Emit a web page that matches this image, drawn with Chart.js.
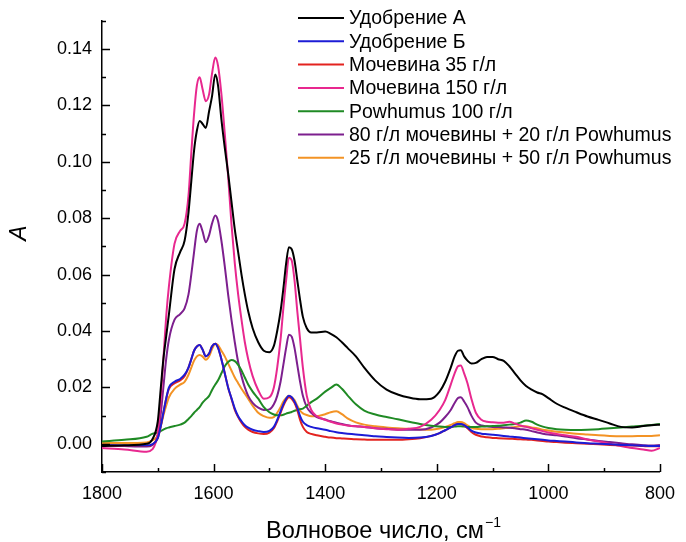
<!DOCTYPE html>
<html>
<head>
<meta charset="utf-8">
<script src="https://cdn.jsdelivr.net/npm/chart.js@4/dist/chart.umd.min.js"></script>
<style>
html,body{margin:0;padding:0;background:#fff;}
canvas{display:block;}
</style>
</head>
<body>
<canvas id="c" width="686" height="542"></canvas>
<script>
// ---- data ----
const wavenumbers = [1800,1760,1720,1710,1700,1695,1690,1685,1680,1670,1660,1652,1645,1640,1635,1630,1625,1620,1614,1608,1603,1597,1592,1586,1580,1574,1568,1562,1556,1550,1544,1538,1530,1520,1510,1500,1492,1486,1480,1475,1470,1465,1460,1455,1450,1445,1440,1433,1425,1415,1400,1390,1380,1370,1360,1345,1330,1310,1290,1270,1250,1230,1210,1195,1185,1175,1168,1162,1157,1151,1145,1138,1130,1120,1110,1100,1090,1080,1070,1060,1050,1040,1030,1020,1010,1000,985,970,950,930,910,890,870,850,830,815,800];

const fertA = [-0.0008,-0.0005,0.0000,0.0015,0.008,0.019,0.030,0.038,0.046,0.062,0.068,0.072,0.082,0.093,0.104,0.111,0.1145,0.1135,0.112,0.118,0.123,0.131,0.127,0.115,0.105,0.096,0.086,0.076,0.068,0.060,0.053,0.047,0.041,0.036,0.033,0.0325,0.0347,0.040,0.047,0.055,0.064,0.0697,0.069,0.065,0.058,0.051,0.045,0.041,0.0395,0.0395,0.0398,0.039,0.0378,0.036,0.034,0.031,0.027,0.0224,0.0192,0.0175,0.0164,0.0158,0.016,0.0185,0.022,0.027,0.031,0.033,0.0332,0.031,0.0295,0.0285,0.0287,0.030,0.0308,0.0308,0.030,0.0294,0.0275,0.025,0.0225,0.0205,0.0192,0.0182,0.0175,0.0162,0.0142,0.0128,0.0112,0.0097,0.0085,0.0072,0.006,0.0058,0.0063,0.0066,0.0068];

const fertB = [-0.0005,-0.0006,-0.0006,-0.0002,0.002,0.006,0.011,0.016,0.020,0.022,0.023,0.0245,0.027,0.030,0.033,0.0345,0.035,0.0335,0.031,0.032,0.0345,0.0355,0.034,0.030,0.025,0.020,0.0162,0.0125,0.0098,0.008,0.0066,0.0057,0.005,0.0045,0.0042,0.0046,0.006,0.0085,0.0115,0.014,0.016,0.017,0.0165,0.015,0.0128,0.0098,0.0078,0.0066,0.006,0.0055,0.005,0.0045,0.0041,0.0038,0.0036,0.0033,0.003,0.0027,0.0024,0.0022,0.0021,0.0022,0.0028,0.0038,0.0048,0.0058,0.0066,0.007,0.007,0.0066,0.0058,0.0047,0.004,0.0036,0.0034,0.0032,0.003,0.0028,0.0026,0.0024,0.0022,0.002,0.0018,0.0016,0.0014,0.0012,0.001,0.0008,0.0005,0.0002,0.0,-0.0002,-0.0004,-0.0005,-0.0007,-0.0008,-0.0008];

const urea35 = [-0.0005,-0.0008,-0.0008,-0.0003,0.002,0.006,0.011,0.016,0.0195,0.0215,0.0225,0.024,0.027,0.030,0.033,0.0345,0.035,0.0335,0.031,0.032,0.0345,0.0355,0.034,0.030,0.025,0.020,0.016,0.012,0.0095,0.0075,0.006,0.005,0.0042,0.0037,0.0035,0.004,0.0055,0.008,0.011,0.0135,0.0155,0.0165,0.016,0.0145,0.012,0.0085,0.006,0.0042,0.0035,0.003,0.0025,0.0022,0.002,0.0019,0.0018,0.0016,0.0015,0.0014,0.0014,0.0014,0.0016,0.002,0.0028,0.0038,0.0048,0.0058,0.0066,0.007,0.007,0.0065,0.0055,0.0042,0.0032,0.0026,0.0023,0.0021,0.002,0.0019,0.0018,0.0017,0.0016,0.0015,0.0014,0.0012,0.001,0.0008,0.0006,0.0004,0.0002,0.0,-0.0002,-0.0004,-0.0005,-0.0006,-0.0008,-0.0009,-0.0008];

const urea150 = [-0.0015,-0.002,-0.0028,-0.002,0.004,0.015,0.030,0.045,0.056,0.071,0.0755,0.078,0.088,0.103,0.117,0.127,0.130,0.126,0.1215,0.124,0.131,0.137,0.134,0.124,0.110,0.095,0.078,0.064,0.053,0.044,0.036,0.030,0.024,0.019,0.016,0.0165,0.020,0.027,0.037,0.048,0.058,0.066,0.065,0.058,0.047,0.037,0.027,0.017,0.012,0.0098,0.0085,0.0078,0.0072,0.0068,0.0065,0.0062,0.006,0.0055,0.0052,0.005,0.0053,0.006,0.0085,0.012,0.0155,0.021,0.025,0.0275,0.0278,0.025,0.0215,0.016,0.011,0.0085,0.0078,0.0076,0.0075,0.0075,0.0078,0.0072,0.0065,0.006,0.0055,0.005,0.0045,0.004,0.0035,0.003,0.0025,0.0015,0.0008,0.0,-0.0008,-0.0015,-0.002,-0.0025,-0.0015];

const powhumus100 = [0.0008,0.0014,0.0025,0.0035,0.004,0.0045,0.005,0.0055,0.0058,0.0063,0.0068,0.0075,0.0088,0.0098,0.011,0.012,0.013,0.0145,0.0158,0.017,0.019,0.021,0.0225,0.025,0.0275,0.029,0.0297,0.0293,0.028,0.026,0.0235,0.021,0.0185,0.016,0.013,0.0112,0.0104,0.0101,0.0101,0.0103,0.0107,0.011,0.0113,0.0117,0.012,0.0123,0.0125,0.0135,0.0148,0.016,0.0185,0.0198,0.021,0.0195,0.0172,0.014,0.0118,0.0104,0.0095,0.0087,0.0078,0.007,0.0064,0.0061,0.006,0.006,0.0061,0.0062,0.0062,0.0061,0.006,0.006,0.006,0.0061,0.0062,0.0063,0.0064,0.0066,0.0068,0.007,0.0075,0.0083,0.0078,0.0068,0.0061,0.0056,0.0052,0.005,0.0049,0.005,0.0052,0.0055,0.0058,0.0061,0.0064,0.0067,0.0070];

const mix80_20 = [-0.0005,-0.0008,-0.001,-0.0005,0.003,0.010,0.020,0.030,0.037,0.044,0.046,0.048,0.053,0.060,0.068,0.0755,0.078,0.0755,0.0715,0.074,0.078,0.081,0.079,0.072,0.063,0.053,0.044,0.036,0.029,0.024,0.020,0.017,0.0145,0.0128,0.012,0.0122,0.014,0.017,0.022,0.028,0.034,0.0387,0.038,0.034,0.028,0.022,0.017,0.013,0.011,0.0095,0.0086,0.008,0.0075,0.007,0.0066,0.0062,0.006,0.0055,0.0053,0.005,0.005,0.005,0.0058,0.0075,0.0095,0.012,0.0145,0.0162,0.0165,0.015,0.013,0.010,0.0075,0.0065,0.0062,0.006,0.006,0.0058,0.0057,0.0055,0.0052,0.005,0.0045,0.004,0.0036,0.0033,0.003,0.0026,0.002,0.0015,0.001,0.0006,0.0002,-0.0002,-0.0005,-0.0006,-0.0004];

const mix25_50 = [0.0003,0.0003,0.0005,0.0012,0.003,0.006,0.010,0.0135,0.0165,0.0195,0.021,0.022,0.0245,0.027,0.0295,0.031,0.0315,0.031,0.0298,0.031,0.0335,0.0355,0.035,0.033,0.031,0.0285,0.026,0.0235,0.0215,0.0195,0.0178,0.016,0.0135,0.011,0.0098,0.0092,0.0095,0.011,0.013,0.015,0.0163,0.017,0.0165,0.0155,0.0135,0.0118,0.0108,0.0102,0.0098,0.0098,0.0105,0.0112,0.0115,0.0105,0.009,0.0076,0.0068,0.0062,0.0058,0.0055,0.0053,0.0051,0.005,0.0054,0.006,0.0067,0.0073,0.0077,0.0077,0.0073,0.0065,0.0057,0.0053,0.0052,0.0052,0.0052,0.0053,0.0055,0.0057,0.006,0.0062,0.0062,0.0058,0.0055,0.005,0.0047,0.0043,0.004,0.0036,0.0033,0.003,0.0028,0.0027,0.0027,0.0028,0.0028,0.003];

const seriesLabels = ["Удобрение А","Удобрение Б","Мочевина 35 г/л","Мочевина 150 г/л","Powhumus 100 г/л","80 г/л мочевины + 20 г/л Powhumus","25 г/л мочевины + 50 г/л Powhumus"];
const seriesColors = ["#000000","#1c1cd6","#e3231f","#e8288f","#1f8a24","#7d1f8e","#f39325"];
const seriesValues = [fertA, fertB, urea35, urea150, powhumus100, mix80_20, mix25_50];

const xTickValues = [1800,1600,1400,1200,1000,800];
const yTickValues = [0.00,0.02,0.04,0.06,0.08,0.10,0.12,0.14];
const xAxisTitle = "Волновое число, см";
const xAxisTitleSup = "−1";
const yAxisTitle = "A";

// ---- chart ----
const FONT = "'Liberation Sans', Arial, sans-serif";
Chart.defaults.font.family = FONT;
Chart.defaults.color = "#000";

const datasets = seriesValues.map((vals, i) => ({
  label: seriesLabels[i],
  data: wavenumbers.map((w, j) => ({x: w, y: vals[j]})),
  borderColor: seriesColors[i],
  backgroundColor: seriesColors[i],
  borderWidth: 2,
  pointRadius: 0,
  cubicInterpolationMode: 'monotone',
  fill: false
}));

const axisDecor = {
  id: 'axisDecor',
  afterDraw(chart) {
    const ctx = chart.ctx;
    const xs = chart.scales.x, ys = chart.scales.y;
    const a = chart.chartArea;
    ctx.save();
    ctx.strokeStyle = "#000";
    ctx.lineWidth = 1.5;
    for (let k = -1; k <= 15; k++) {
      const v = k / 100;
      const py = Math.round(ys.getPixelForValue(v)) + 0.5;
      const len = (k % 2 === 0) ? 8 : 4;
      ctx.beginPath(); ctx.moveTo(a.left, py); ctx.lineTo(a.left + len, py); ctx.stroke();
    }
    for (let w = 800; w <= 1800; w += 100) {
      const px = Math.round(xs.getPixelForValue(w)) + 0.5;
      const len = (w % 200 === 0) ? 8 : 4;
      ctx.beginPath(); ctx.moveTo(px, a.bottom); ctx.lineTo(px, a.bottom - len); ctx.stroke();
    }
    ctx.fillStyle = "#000";
    ctx.font = "23.5px " + FONT;
    ctx.textBaseline = "alphabetic";
    const w1 = ctx.measureText(xAxisTitle).width;
    ctx.font = "14px " + FONT;
    const w2 = ctx.measureText(xAxisTitleSup).width;
    const cx = (a.left + a.right) / 2 + 2;
    const startX = cx - (w1 + w2) / 2;
    ctx.font = "23.5px " + FONT;
    ctx.textAlign = "left";
    ctx.fillText(xAxisTitle, startX, 538);
    ctx.font = "14px " + FONT;
    ctx.fillText(xAxisTitleSup, startX + w1 + 1, 527);
    ctx.save();
    ctx.translate(26, 233);
    ctx.rotate(-Math.PI / 2);
    ctx.font = "italic 23px " + FONT;
    ctx.textAlign = "center";
    ctx.fillText(yAxisTitle, 0, 0);
    ctx.restore();
    ctx.font = "19.5px " + FONT;
    ctx.textBaseline = "middle";
    ctx.textAlign = "left";
    chart.data.datasets.forEach((ds, i) => {
      const y = 18 + i * 23.3;
      ctx.strokeStyle = ds.borderColor;
      ctx.lineWidth = 2;
      ctx.beginPath(); ctx.moveTo(298, y); ctx.lineTo(344, y); ctx.stroke();
      ctx.fillText(ds.label, 349, y + 1);
    });
    ctx.restore();
  }
};

new Chart(document.getElementById('c'), {
  type: 'line',
  data: { datasets },
  options: {
    responsive: false,
    animation: false,
    devicePixelRatio: 1,
    layout: { padding: { top: 16, right: 17, left: 0, bottom: 0 } },
    plugins: { legend: { display: false }, tooltip: { enabled: false } },
    scales: {
      x: {
        type: 'linear',
        reverse: true,
        min: 800, max: 1800,
        afterFit: s => { s.height = 70; },
        afterBuildTicks: s => { s.ticks = xTickValues.map(v => ({value: v})); },
        grid: { display: false, drawTicks: false },
        border: { display: true, color: '#000', width: 1.5 },
        ticks: { font: { size: 18 }, color: '#000', padding: 11, maxRotation: 0, autoSkip: false,
                 callback: v => String(v) }
      },
      y: {
        type: 'linear',
        min: -0.01, max: 0.15,
        afterFit: s => { s.width = 102; },
        afterBuildTicks: s => { s.ticks = yTickValues.map(v => ({value: v})); },
        grid: { display: false, drawTicks: false },
        border: { display: true, color: '#000', width: 1.5 },
        ticks: { font: { size: 18 }, color: '#000', padding: 10, autoSkip: false,
                 callback: v => Number(v).toFixed(2) }
      }
    }
  },
  plugins: [axisDecor]
});
</script>
</body>
</html>
